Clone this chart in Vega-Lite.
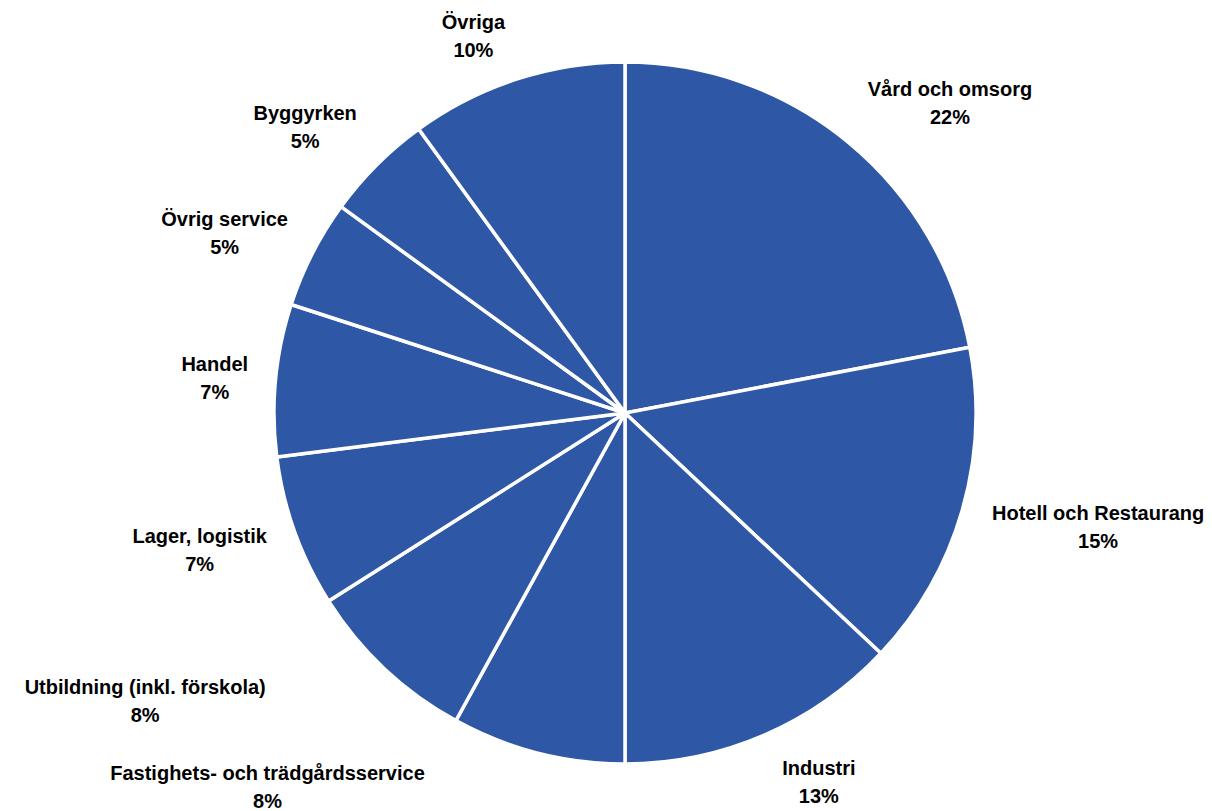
{
  "$schema": "https://vega.github.io/schema/vega-lite/v6.json",
  "width": 1174,
  "height": 796,
  "autosize": {"type": "none"},
  "padding": {"left": 38, "top": 15, "right": 0, "bottom": 0},
  "background": "white",
  "config": {"view": {"stroke": null}},
  "data": {
    "values": [
      {"order": 1, "name": "Vård och omsorg", "share": 22},
      {"order": 2, "name": "Hotell och Restaurang", "share": 15},
      {"order": 3, "name": "Industri", "share": 13},
      {"order": 4, "name": "Fastighets- och trädgårdsservice", "share": 8},
      {"order": 5, "name": "Utbildning (inkl. förskola)", "share": 8},
      {"order": 6, "name": "Lager, logistik", "share": 7},
      {"order": 7, "name": "Handel", "share": 7},
      {"order": 8, "name": "Övrig service", "share": 5},
      {"order": 9, "name": "Byggyrken", "share": 5},
      {"order": 10, "name": "Övriga", "share": 10}
    ]
  },
  "transform": [
    {"calculate": "datum.name + '\\n' + datum.share + '%'", "as": "label"}
  ],
  "encoding": {
    "theta": {"field": "share", "type": "quantitative", "stack": true},
    "order": {"field": "order", "type": "quantitative"}
  },
  "layer": [
    {
      "mark": {"type": "arc", "outerRadius": 351, "stroke": "white", "strokeWidth": 3.5, "color": "#2E57A5"}
    },
    {
      "mark": {"type": "text", "radius": 400, "dx": 70, "dy": -15, "fontSize": 20, "fontWeight": "bold", "font": "Liberation Sans", "lineBreak": "\n", "lineHeight": 28, "align": "center", "baseline": "middle", "color": "black"},
      "encoding": {"text": {"condition": {"test": "datum.name === 'Vård och omsorg'", "field": "label"}, "value": ""}}
    },
    {
      "mark": {"type": "text", "radius": 400, "dx": 89, "dy": -11, "fontSize": 20, "fontWeight": "bold", "font": "Liberation Sans", "lineBreak": "\n", "lineHeight": 28, "align": "center", "baseline": "middle", "color": "black"},
      "encoding": {"text": {"condition": {"test": "datum.name === 'Hotell och Restaurang'", "field": "label"}, "value": ""}}
    },
    {
      "mark": {"type": "text", "radius": 400, "dx": 35, "dy": -11, "fontSize": 20, "fontWeight": "bold", "font": "Liberation Sans", "lineBreak": "\n", "lineHeight": 28, "align": "center", "baseline": "middle", "color": "black"},
      "encoding": {"text": {"condition": {"test": "datum.name === 'Industri'", "field": "label"}, "value": ""}}
    },
    {
      "mark": {"type": "text", "radius": 400, "dx": -258, "dy": -26, "fontSize": 20, "fontWeight": "bold", "font": "Liberation Sans", "lineBreak": "\n", "lineHeight": 28, "align": "center", "baseline": "middle", "color": "black"},
      "encoding": {"text": {"condition": {"test": "datum.name === 'Fastighets- och trädgårdsservice'", "field": "label"}, "value": ""}}
    },
    {
      "mark": {"type": "text", "radius": 400, "dx": -206, "dy": -17, "fontSize": 20, "fontWeight": "bold", "font": "Liberation Sans", "lineBreak": "\n", "lineHeight": 28, "align": "center", "baseline": "middle", "color": "black"},
      "encoding": {"text": {"condition": {"test": "datum.name === 'Utbildning (inkl. förskola)'", "field": "label"}, "value": ""}}
    },
    {
      "mark": {"type": "text", "radius": 400, "dx": -49, "dy": -11, "fontSize": 20, "fontWeight": "bold", "font": "Liberation Sans", "lineBreak": "\n", "lineHeight": 28, "align": "center", "baseline": "middle", "color": "black"},
      "encoding": {"text": {"condition": {"test": "datum.name === 'Lager, logistik'", "field": "label"}, "value": ""}}
    },
    {
      "mark": {"type": "text", "radius": 400, "dx": -12, "dy": -10, "fontSize": 20, "fontWeight": "bold", "font": "Liberation Sans", "lineBreak": "\n", "lineHeight": 28, "align": "center", "baseline": "middle", "color": "black"},
      "encoding": {"text": {"condition": {"test": "datum.name === 'Handel'", "field": "label"}, "value": ""}}
    },
    {
      "mark": {"type": "text", "radius": 400, "dx": -44, "dy": -11, "fontSize": 20, "fontWeight": "bold", "font": "Liberation Sans", "lineBreak": "\n", "lineHeight": 28, "align": "center", "baseline": "middle", "color": "black"},
      "encoding": {"text": {"condition": {"test": "datum.name === 'Övrig service'", "field": "label"}, "value": ""}}
    },
    {
      "mark": {"type": "text", "radius": 400, "dx": -37, "dy": -16, "fontSize": 20, "fontWeight": "bold", "font": "Liberation Sans", "lineBreak": "\n", "lineHeight": 28, "align": "center", "baseline": "middle", "color": "black"},
      "encoding": {"text": {"condition": {"test": "datum.name === 'Byggyrken'", "field": "label"}, "value": ""}}
    },
    {
      "mark": {"type": "text", "radius": 400, "dx": -28, "dy": -10, "fontSize": 20, "fontWeight": "bold", "font": "Liberation Sans", "lineBreak": "\n", "lineHeight": 28, "align": "center", "baseline": "middle", "color": "black"},
      "encoding": {"text": {"condition": {"test": "datum.name === 'Övriga'", "field": "label"}, "value": ""}}
    }
  ]
}
